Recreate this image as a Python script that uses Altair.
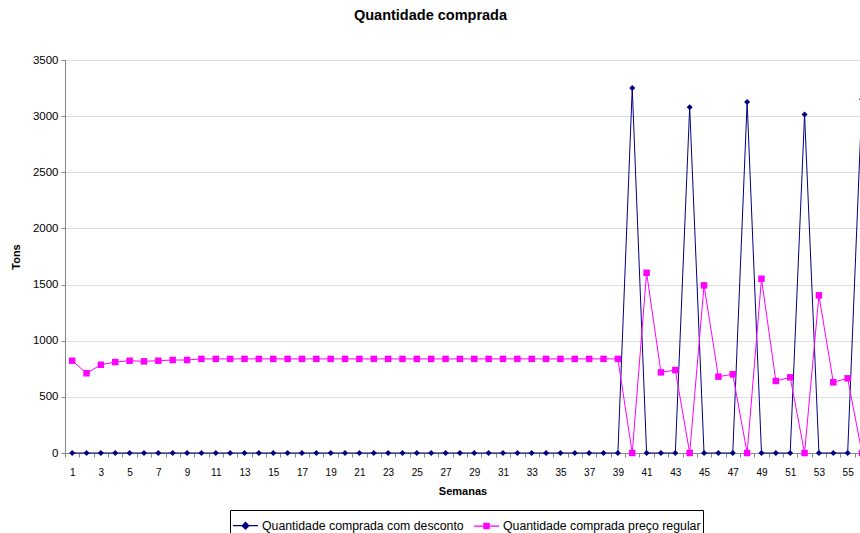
import altair as alt
import pandas as pd

semanas = list(range(1, 57))
desconto = [0] * 39 + [3250, 0, 0, 0, 3080, 0, 0, 0, 3125, 0, 0, 0, 3015, 0, 0, 0, 3150]
regular = ([822, 710, 786, 810, 822, 816, 822, 828, 828] + [838] * 30 +
           [0, 1605, 718, 739, 0, 1493, 680, 701, 0, 1552, 641, 674, 0, 1404, 630, 665, 0])

s1 = "Quantidade comprada com desconto"
s2 = "Quantidade comprada preço regular"
series = [s1, s2]
colors = ["#000080", "#FF00FF"]

df = pd.DataFrame({
    "semana": semanas * 2,
    "tons": desconto + regular,
    "serie": [s1] * len(semanas) + [s2] * len(semanas),
})

FONT = "Liberation Sans"
x_ticks = sorted([i + 0.5 for i in range(0, 56)] + list(range(1, 56, 2)))

x_enc = alt.X(
    "semana:Q",
    title="Semanas",
    scale=alt.Scale(domain=[0.5, 55.86], nice=False, zero=False),
    axis=alt.Axis(
        values=x_ticks,
        labelExpr="datum.value % 2 === 1 ? toString(datum.value) : ''",
        tickOpacity={"condition": {"test": "datum.value % 1 === 0", "value": 0}, "value": 1},
        labelOverlap=False,
        grid=False,
        tickSize=4,
        labelPadding=10,
        titlePadding=8,
    ),
)
y_enc = alt.Y(
    "tons:Q",
    title="Tons",
    scale=alt.Scale(domain=[0, 3500], nice=False),
    axis=alt.Axis(
        values=list(range(0, 3501, 500)),
        format="d",
        grid=True,
        tickSize=4,
        labelPadding=3,
        labelFontSize=11.5,
        titlePadding=11,
    ),
)

base = alt.Chart(df)

blue = base.transform_filter(alt.datum.serie == s1)
pink = base.transform_filter(alt.datum.serie == s2)

line_b = blue.mark_line(color=colors[0], strokeWidth=1).encode(x=x_enc, y=y_enc)
pts_b = blue.mark_point(shape="diamond", filled=True, color=colors[0], size=36, opacity=1).encode(x=x_enc, y=y_enc)
line_p = pink.mark_line(color=colors[1], strokeWidth=1).encode(x=x_enc, y=y_enc)
pts_p = pink.mark_point(shape="square", filled=True, color=colors[1], size=42, opacity=1).encode(x=x_enc, y=y_enc)

path_b = "M-1,-0.05H1V0.05H-1Z M0,-0.34L0.34,0L0,0.34L-0.34,0Z"
path_p = "M-1,-0.05H1V0.05H-1Z M-0.26,-0.26H0.26V0.26H-0.26Z"

legend_layer = base.transform_filter(alt.datum.semana < 0).mark_point(filled=True, opacity=1).encode(
    x=x_enc,
    y=y_enc,
    color=alt.Color("serie:N", scale=alt.Scale(domain=series, range=colors),
                    legend=alt.Legend(title=None, orient="none", direction="horizontal",
                                      legendX=165, legendY=450, symbolSize=625,
                                      labelFont=FONT, labelFontSize=12.3, labelColor="black",
                                      labelLimit=400,
                                      labelOffset=3, columnPadding=7, padding=2,
                                      strokeColor="black", symbolOpacity=1)),
    shape=alt.Shape("serie:N", scale=alt.Scale(domain=series, range=[path_b, path_p])),
)

chart = alt.layer(line_b, pts_b, line_p, pts_p, legend_layer).properties(
    width=795,
    height=393,
    title=alt.TitleParams("Quantidade comprada", font=FONT, fontSize=14.5, fontWeight="bold",
                          anchor="middle", dx=-32, offset=31, color="black"),
    autosize="none",
    padding={"left": 65, "top": 60, "right": 0, "bottom": 80},
).configure_view(stroke=None).configure_axis(
    labelFont=FONT, labelFontSize=11, labelColor="black",
    titleFont=FONT, titleFontSize=12, titleFontWeight="bold", titleColor="black",
    domainColor="black", tickColor="black", gridColor="black", gridWidth=1, domainWidth=1,
).configure(background="white")

chart.save("out.html", embed_options={"renderer": "svg", "actions": False})
